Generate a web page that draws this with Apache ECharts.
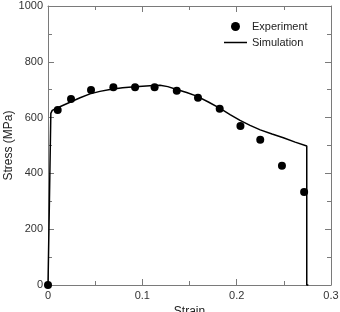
<!DOCTYPE html>
<html><head><meta charset="utf-8">
<script src="https://cdn.jsdelivr.net/npm/echarts@6/dist/echarts.min.js"></script>
<style>html,body{margin:0;padding:0;background:#fff}#c{width:340px;height:312px}</style>
</head><body><div id="c"></div>
<script>
const expStrain = [0, 0.0103, 0.0244, 0.0456, 0.0693, 0.0923, 0.113, 0.1365, 0.159, 0.182, 0.204, 0.225, 0.248, 0.2715];
const expStress = [0, 627, 667, 699, 709, 709, 709, 696, 671, 632, 570, 521, 427, 333];
const simStrain = [0, 0.0015, 0.003, 0.0045, 0.012, 0.0233, 0.034, 0.0445, 0.055, 0.0657, 0.079, 0.0923, 0.108, 0.1188, 0.127, 0.1365, 0.147, 0.1577, 0.17, 0.1824, 0.193, 0.2036, 0.2142, 0.225, 0.2375, 0.2495, 0.262, 0.2743, 0.2743, 0.276];
const simStress = [0, 300, 615, 626, 638, 655, 671, 685, 694, 701, 707, 711, 714, 716, 711, 701, 690, 677, 656, 633, 611, 590, 572, 556, 541, 528, 512, 498, 0, 0];
const xTicks = [0, 0.1, 0.2, 0.3];
const yTicks = [0, 200, 400, 600, 800, 1000];

const chart = echarts.init(document.getElementById('c'));
const axisCol = '#7a7a7a';
const font = 'Liberation Sans, Arial, sans-serif';
function ax(extra){
  return Object.assign({
    axisLine:{show:true, onZero:false, lineStyle:{color:axisCol, width:1}},
    axisTick:{show:true, inside:true, length:6, lineStyle:{color:axisCol}},
    minorTick:{show:true, splitNumber:2, length:4, lineStyle:{color:axisCol}},
    splitLine:{show:false},
  }, extra);
}
chart.setOption({
  animation:false,
  textStyle:{fontFamily:font},
  grid:{left:48, right:9, top:6, bottom:27, containLabel:false, outerBoundsMode:'none'},
  legend:{
    orient:'vertical', left:224, top:21, padding:0, itemWidth:23, itemHeight:9, itemGap:5,
    textStyle:{fontFamily:font, fontSize:11, color:'#222'},
    data:[{name:'Experiment', icon:'circle'}, {name:'Simulation', icon:'path://M0,0 L46,0 L46,3 L0,3 Z'}]
  },
  xAxis:[
    ax({type:'value', min:0, max:0.3, interval:0.1, position:'bottom',
      name:'Strain', nameLocation:'middle', nameGap:21, nameMoveOverlap:false,
      nameTextStyle:{fontFamily:font, fontSize:12, color:'#222'},
      axisLabel:{fontFamily:font, fontSize:11, color:'#333', margin:5,
        formatter:v=>xTicks.includes(+v.toFixed(2)) ? String(+v.toFixed(2)) : ''}}),
    ax({type:'value', min:0, max:0.3, interval:0.1, position:'top', axisLabel:{show:false}})
  ],
  yAxis:[
    ax({type:'value', min:0, max:1000, interval:200, position:'left',
      name:'Stress (MPa)', nameLocation:'middle', nameGap:33, nameMoveOverlap:false,
      nameTextStyle:{fontFamily:font, fontSize:12, color:'#222'},
      axisLabel:{fontFamily:font, fontSize:11, color:'#333', margin:5,
        formatter:v=>yTicks.includes(v) ? String(v) : ''}}),
    ax({type:'value', min:0, max:1000, interval:200, position:'right', axisLabel:{show:false}})
  ],
  series:[
    {name:'Experiment', type:'scatter', symbol:'circle', symbolSize:8, clip:false,
      itemStyle:{color:'#000', opacity:1}, z:3,
      data:expStrain.map((x,i)=>[x, expStress[i]])},
    {name:'Simulation', type:'line', symbol:'none', smooth:false, clip:false,
      lineStyle:{color:'#000', width:1.5}, itemStyle:{color:'#000'},
      data:simStrain.map((x,i)=>[x, simStress[i]])}
  ]
});
</script></body></html>
